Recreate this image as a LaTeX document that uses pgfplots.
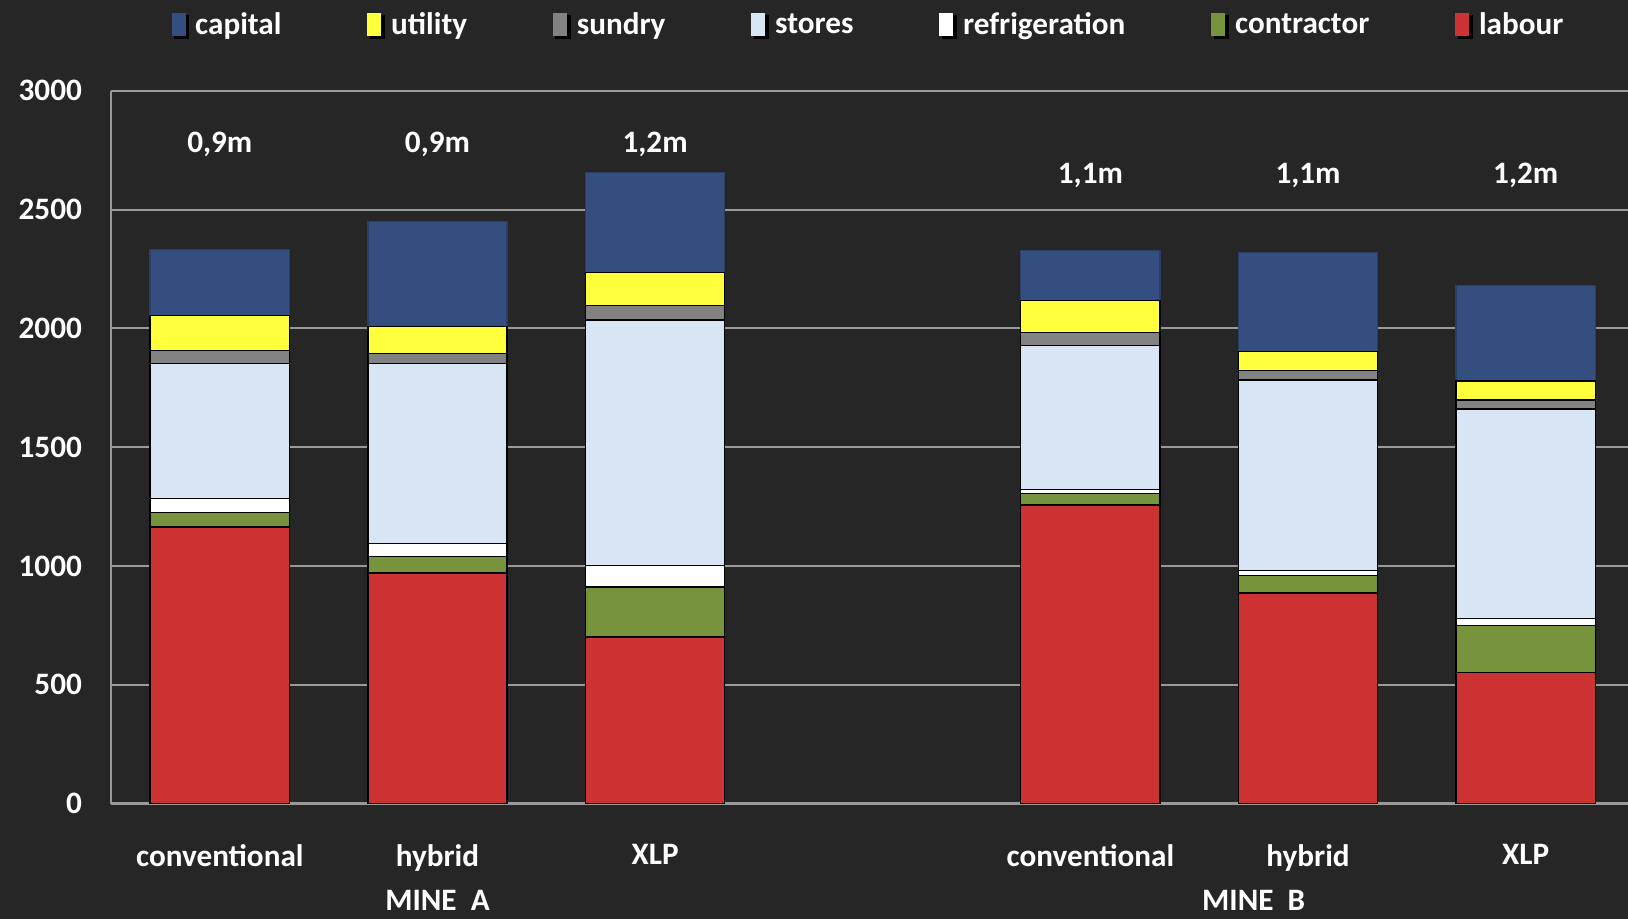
\documentclass[border=0pt]{standalone}
\usepackage{pgfplots}
\usepackage{pgfplotstable}
\pgfplotsset{compat=1.18}
\usepackage{fontspec}
\setmainfont{Carlito}
\definecolor{bg}{HTML}{262626}
\definecolor{gridc}{HTML}{9A9A9A}
\definecolor{ccap}{HTML}{334E7F}
\definecolor{cutil}{HTML}{FFFF3C}
\definecolor{csun}{HTML}{828282}
\definecolor{csto}{HTML}{D8E5F4}
\definecolor{cref}{HTML}{FFFFFF}
\definecolor{ccon}{HTML}{77933C}
\definecolor{clab}{HTML}{CD3333}
\pgfplotstableread{
x labour contractor refrigeration stores sundry utility capital
0 1164 61 59 569 55 146 279
1 970 70 56 757 42 113 441
2 701 210 91 1034 61 139 419
4 1256 48 19 606 53 136 209
5 886 73 22 802 39 80 418
6 552 198 28 882 39 80 402
}\data
\begin{document}
\begin{tikzpicture}[font=\bfseries\fontsize{15.6}{18}\selectfont]
\fill[bg, use as bounding box] (-55.5pt,-57.5pt) rectangle (758.5pt,401.85pt);
\begin{axis}[
  scale only axis, width=758.5pt, height=356.5pt,
  ybar stacked, bar width=0.64,
  xmin=-0.5, xmax=6.47, ymin=0, ymax=3000,
  xtick={0,1,2,4,5,6},
  xticklabels={conventional,hybrid,XLP,conventional,hybrid,XLP},
  ytick={0,500,...,3000},
  ymajorgrids, grid style={color=gridc, line width=1pt},
  axis x line*=bottom, axis y line*=left,
  axis line style={color=gridc, line width=1.2pt, -},
  major tick length=0pt,
  tick label style={white},
  /pgf/number format/1000 sep={},
  /pgf/number format/assume math mode=true,
  yticklabel style={xshift=-11pt},
  xticklabel style={yshift=-17pt},
  clip=false,
  reverse legend,
  legend columns=7,
  legend style={at={(0.5,1.0926)}, anchor=center, draw=none, fill=none,
    text=white, font=\bfseries\fontsize{15.6}{18}\selectfont,
    /tikz/every even column/.append style={column sep=41pt},
    /tikz/every odd column/.append style={column sep=1pt}},
  every axis plot/.append style={draw=black, line width=0.7pt},
  myleg/.style={legend image code/.code={
    \fill[black] (1.5pt,-7pt) rectangle (8.5pt,4.5pt);
    \fill[##1,draw=none] (0pt,-5.5pt) rectangle (7pt,6pt);}},
]
\addplot[fill=clab, myleg] table[x=x,y=labour]{\data};
\addplot[fill=ccon, myleg] table[x=x,y=contractor]{\data};
\addplot[fill=cref, myleg] table[x=x,y=refrigeration]{\data};
\addplot[fill=csto, myleg] table[x=x,y=stores]{\data};
\addplot[fill=csun, myleg] table[x=x,y=sundry]{\data};
\addplot[fill=cutil, myleg] table[x=x,y=utility]{\data};
\addplot[fill=ccap, draw=ccap!80!black, myleg] table[x=x,y=capital]{\data};
\legend{labour,contractor,refrigeration,stores,sundry,utility,capital}
\node[white] at (axis cs:0,2772) {0,9m};
\node[white] at (axis cs:1,2772) {0,9m};
\node[white] at (axis cs:2,2772) {1,2m};
\node[white] at (axis cs:4,2645) {1,1m};
\node[white] at (axis cs:5,2645) {1,1m};
\node[white] at (axis cs:6,2645) {1,2m};
\node[white, inner sep=0pt] at ([yshift=-48.5pt]axis cs:1,0) {MINE\ \ A};
\node[white, inner sep=0pt] at ([yshift=-48.5pt]axis cs:4.75,0) {MINE\ \ B};
\end{axis}
\end{tikzpicture}
\end{document}
